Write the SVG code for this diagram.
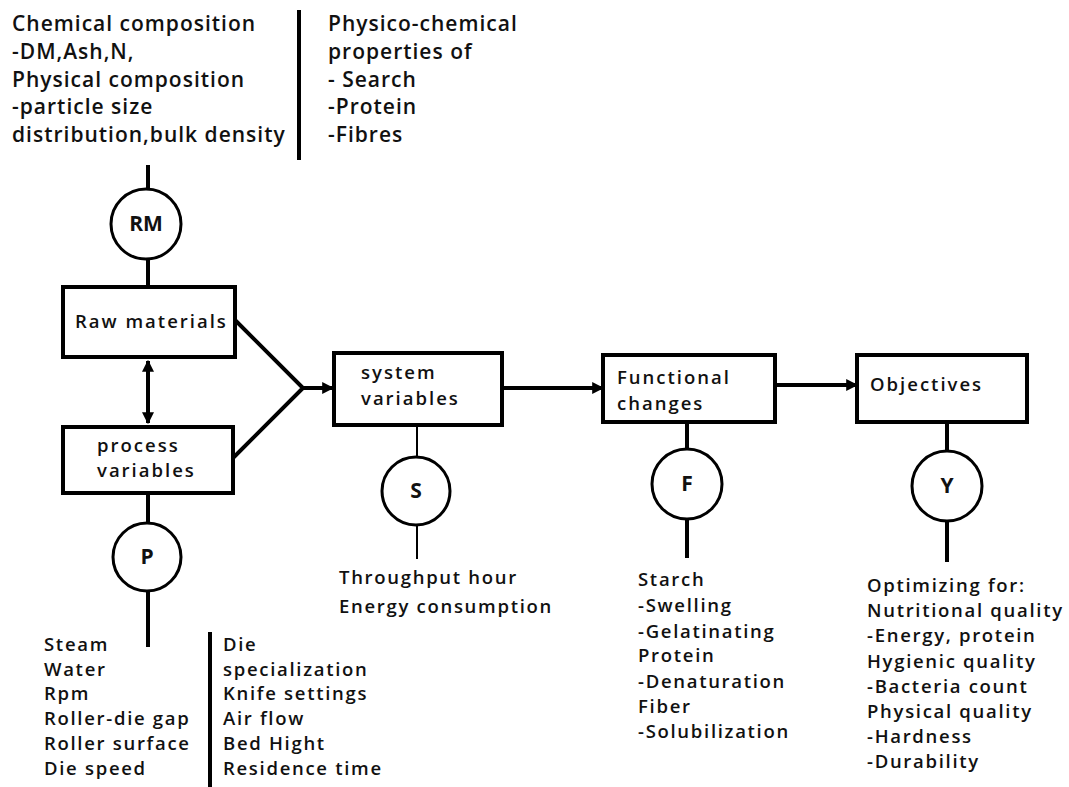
<svg xmlns="http://www.w3.org/2000/svg" width="1069" height="787" viewBox="0 0 1069 787">
<defs>
<marker id="ah" viewBox="0 0 10 10" refX="9" refY="5" markerWidth="3" markerHeight="3" orient="auto-start-reverse" markerUnits="strokeWidth">
<path d="M0,0 L10,5 L0,10 z" fill="#000"/>
</marker>
</defs>
<style>
text{font-family:"Open Sans","DejaVu Sans",sans-serif;font-size:18.5px;font-weight:600;letter-spacing:1.7px;fill:#111}
.top{font-size:21px;letter-spacing:1px}
.nb{letter-spacing:2px}
.lbl{font-size:21px;font-weight:700;letter-spacing:0}
.box{fill:#fff;stroke:#000;stroke-width:4}
.circ{fill:#fff;stroke:#000;stroke-width:3}
.thick{stroke:#000;stroke-width:4;fill:none}
.thin{stroke:#000;stroke-width:2;fill:none}
.c{text-anchor:middle}
</style>
<rect width="1069" height="787" fill="#fff"/>
<g id="connectors">
<line class="thick" x1="148" y1="165" x2="148" y2="189"/>
<line class="thick" x1="148" y1="259" x2="148" y2="287"/>
<line class="thick" x1="148" y1="361" x2="148" y2="423" marker-start="url(#ah)" marker-end="url(#ah)"/>
<line class="thick" x1="148" y1="493" x2="148" y2="523"/>
<line class="thick" x1="148" y1="591" x2="148" y2="647"/>
<polyline class="thick" points="235,320 303,388 233,458"/>
<line class="thick" x1="301" y1="388" x2="333" y2="388" marker-end="url(#ah)"/>
<line class="thin" x1="417" y1="425" x2="417" y2="457"/>
<line class="thin" x1="417" y1="525" x2="417" y2="559"/>
<line class="thick" x1="502" y1="388" x2="603" y2="388" marker-end="url(#ah)"/>
<line class="thick" x1="687" y1="422" x2="687" y2="448"/>
<line class="thick" x1="687" y1="520" x2="687" y2="558"/>
<line class="thick" x1="775" y1="385" x2="857" y2="385" marker-end="url(#ah)"/>
<line class="thick" x1="947" y1="422" x2="947" y2="450"/>
<line class="thick" x1="947" y1="522" x2="947" y2="562"/>
<line class="thick" x1="299" y1="10" x2="299" y2="160"/>
<line class="thick" x1="210" y1="632" x2="210" y2="787"/>
</g>
<g id="top-left-text">
<text class="top" x="12" y="31">Chemical composition</text>
<text class="top" x="12" y="59">-DM,Ash,N,</text>
<text class="top" x="12" y="87">Physical composition</text>
<text class="top" x="12" y="114">-particle size</text>
<text class="top" x="12" y="142">distribution,bulk density</text>
</g>
<g id="top-right-text">
<text class="top" x="328" y="31">Physico-chemical</text>
<text class="top" x="328" y="59">properties of</text>
<text class="top" x="328" y="87">- Search</text>
<text class="top" x="328" y="114">-Protein</text>
<text class="top" x="328" y="142">-Fibres</text>
</g>
<g id="node-RM">
<circle class="circ" cx="146" cy="224" r="35"/>
<text class="c lbl" x="146" y="231">RM</text>
</g>
<g id="node-raw">
<rect class="box" x="63" y="287" width="172" height="70"/>
<text class="nb" x="75" y="328">Raw materials</text>
</g>
<g id="node-process">
<rect class="box" x="63" y="427" width="170" height="66"/>
<text class="nb" x="97" y="452">process</text>
<text class="nb" x="97" y="477">variables</text>
</g>
<g id="node-P">
<circle class="circ" cx="147" cy="557" r="34"/>
<text class="c lbl" x="147" y="564">P</text>
</g>
<g id="p-left-text">
<text x="44" y="651">Steam</text>
<text x="44" y="676">Water</text>
<text x="44" y="700">Rpm</text>
<text x="44" y="725">Roller-die gap</text>
<text x="44" y="750">Roller surface</text>
<text x="44" y="775">Die speed</text>
</g>
<g id="p-right-text">
<text x="223" y="651">Die</text>
<text x="223" y="676">specialization</text>
<text x="223" y="700">Knife settings</text>
<text x="223" y="725">Air flow</text>
<text x="223" y="750">Bed Hight</text>
<text x="223" y="775">Residence time</text>
</g>
<g id="node-system">
<rect class="box" x="334" y="353" width="168" height="72"/>
<text class="nb" x="361" y="379">system</text>
<text class="nb" x="361" y="405">variables</text>
</g>
<g id="node-S">
<circle class="circ" cx="416" cy="491" r="34"/>
<text class="c lbl" x="416" y="498">S</text>
</g>
<g id="s-text">
<text x="339" y="584">Throughput hour</text>
<text x="339" y="613">Energy consumption</text>
</g>
<g id="node-functional">
<rect class="box" x="603" y="355" width="172" height="67"/>
<text class="nb" x="617" y="384">Functional</text>
<text class="nb" x="617" y="410">changes</text>
</g>
<g id="node-F">
<circle class="circ" cx="687" cy="484" r="35"/>
<text class="c lbl" x="687" y="491">F</text>
</g>
<g id="f-text">
<text x="638" y="586">Starch</text>
<text x="638" y="612">-Swelling</text>
<text x="638" y="638">-Gelatinating</text>
<text x="638" y="662">Protein</text>
<text x="638" y="688">-Denaturation</text>
<text x="638" y="713">Fiber</text>
<text x="638" y="738">-Solubilization</text>
</g>
<g id="node-objectives">
<rect class="box" x="857" y="355" width="170" height="67"/>
<text class="nb" x="870" y="391">Objectives</text>
</g>
<g id="node-Y">
<circle class="circ" cx="947" cy="486" r="35"/>
<text class="c lbl" x="947" y="493">Y</text>
</g>
<g id="y-text">
<text x="867" y="592">Optimizing for:</text>
<text x="867" y="617">Nutritional quality</text>
<text x="867" y="642">-Energy, protein</text>
<text x="867" y="668">Hygienic quality</text>
<text x="867" y="693">-Bacteria count</text>
<text x="867" y="718">Physical quality</text>
<text x="867" y="743">-Hardness</text>
<text x="867" y="768">-Durability</text>
</g>
</svg>
